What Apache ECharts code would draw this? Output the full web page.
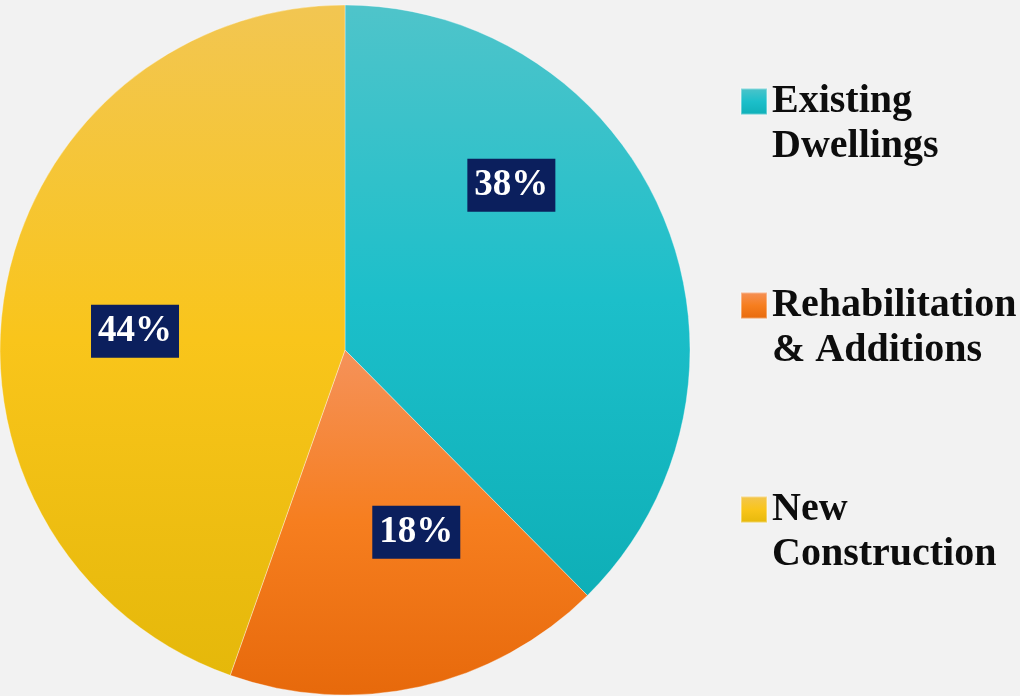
<!DOCTYPE html>
<html>
<head>
<meta charset="utf-8">
<script src="https://cdn.jsdelivr.net/npm/echarts@6/dist/echarts.min.js"></script>
<style>
  html, body { margin: 0; padding: 0; background: #f2f2f2; }
  #chart { width: 1020px; height: 696px; }
</style>
</head>
<body>
<div id="chart"></div>
<script>
// data
const categories = ['Existing\nDwellings', 'Rehabilitation\n& Additions', 'New\nConstruction']
const shares = [37.6, 17.8, 44.6]
const labelTexts = ['38%', '18%', '44%']

// top / middle / bottom colour of each slice's vertical gradient
const sliceColors = [
  ['#4fc4ca', '#1cbfca', '#0eafb7'],
  ['#f5925a', '#f67e1f', '#e7690b'],
  ['#f2c652', '#f9c51b', '#e5b80a']
]
// nudges so the boxes sit where the original put them
const labelOffsets = [[4, -98], [33, 11], [-37, 11]]

function grad (c) {
  return new echarts.graphic.LinearGradient(0, 0, 0, 1, [
    { offset: 0, color: c[0] },
    { offset: 0.5, color: c[1] },
    { offset: 1, color: c[2] }
  ])
}

const chart = echarts.init(document.getElementById('chart'), null, { renderer: 'canvas' })

const option = {
  backgroundColor: '#f2f2f2',
  animation: false,
  legend: {
    orient: 'vertical',
    left: 740,
    top: 34,
    padding: 0,
    itemWidth: 26,
    itemHeight: 26,
    itemGap: 69,
    icon: 'rect',
    selectedMode: false,
    // leading blank line puts the first text line level with the square
    formatter: name => '\n' + name,
    textStyle: {
      fontFamily: '"Liberation Serif", serif',
      fontWeight: 'bold',
      fontSize: 40,
      lineHeight: 45,
      color: '#0d0d0d'
    },
    data: categories
  },
  series: [{
    type: 'pie',
    center: [345, 350],
    radius: 345,
    startAngle: 90,
    clockwise: true,
    avoidLabelOverlap: false,
    emphasis: { disabled: true },
    itemStyle: {
      borderColor: 'rgba(255,255,255,0.35)',
      borderWidth: 1
    },
    label: {
      show: true,
      position: 'inside',
      color: '#ffffff',
      fontFamily: '"Liberation Serif", serif',
      fontWeight: 'bold',
      fontSize: 37,
      lineHeight: 36,
      backgroundColor: '#0b1f5d',
      padding: [9, 7, 8, 7]
    },
    labelLine: { show: false },
    data: shares.map((v, i) => ({
      name: categories[i],
      value: v,
      itemStyle: { color: grad(sliceColors[i]) },
      label: { formatter: labelTexts[i], offset: labelOffsets[i] }
    }))
  }]
}

chart.setOption(option)
</script>
</body>
</html>
